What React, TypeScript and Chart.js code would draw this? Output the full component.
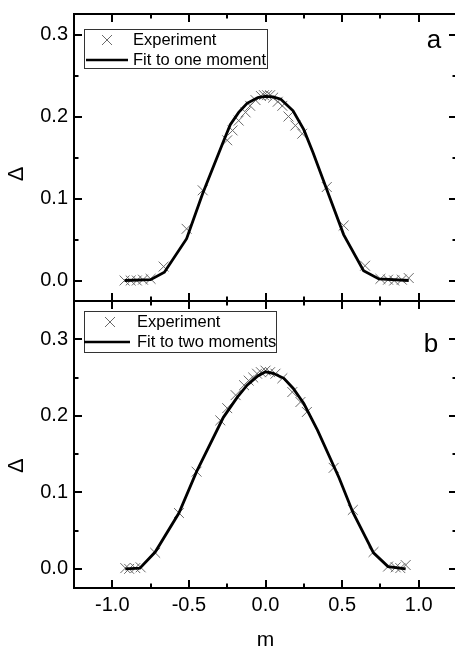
import React, { useEffect, useRef } from "react";
import { Chart, registerables } from "chart.js";

Chart.register(...registerables);

const FONT = '"Liberation Sans", Arial, Helvetica, sans-serif';

// axis ticks
const X_MAJOR = [-1, -0.5, 0, 0.5, 1];
const X_MINOR = [-0.75, -0.25, 0.25, 0.75];
const Y_MAJOR = [0, 0.1, 0.2, 0.3];
const Y_MINOR = [0.05, 0.15, 0.25];

// panel a: experiment + fit to one moment
const expA_m = [-0.92, -0.88, -0.84, -0.8, -0.75, -0.665, -0.515, -0.41, -0.25, -0.215, -0.175, -0.13, -0.1, -0.065, -0.03, -0.01, 0.01, 0.03, 0.05, 0.08, 0.11, 0.15, 0.195, 0.24, 0.4, 0.51, 0.65, 0.75, 0.8, 0.84, 0.89, 0.935];
const expA_d = [0, 0, 0, 0.001, 0.002, 0.017, 0.063, 0.11, 0.171, 0.183, 0.195, 0.205, 0.213, 0.22, 0.225, 0.226, 0.226, 0.226, 0.223, 0.218, 0.213, 0.2, 0.189, 0.179, 0.114, 0.067, 0.018, 0.002, 0.001, 0, 0.001, 0.003];
const fitA_m = [-0.92, -0.75, -0.66, -0.515, -0.41, -0.28, -0.23, -0.175, -0.12, -0.05, 0, 0.05, 0.1, 0.18, 0.25, 0.31, 0.42, 0.51, 0.64, 0.74, 0.935];
const fitA_d = [0, 0.001, 0.01, 0.051, 0.106, 0.167, 0.19, 0.205, 0.216, 0.223, 0.2245, 0.224, 0.221, 0.207, 0.184, 0.156, 0.101, 0.056, 0.012, 0.002, 0];

// panel b: experiment + fit to two moments
const expB_m = [-0.915, -0.89, -0.85, -0.815, -0.72, -0.565, -0.45, -0.295, -0.25, -0.195, -0.14, -0.11, -0.08, -0.055, -0.03, 0, 0.03, 0.065, 0.11, 0.175, 0.228, 0.27, 0.445, 0.57, 0.705, 0.8, 0.85, 0.88, 0.915];
const expB_d = [0.001, 0, 0.001, 0.002, 0.021, 0.073, 0.127, 0.194, 0.21, 0.227, 0.24, 0.246, 0.25, 0.255, 0.257, 0.259, 0.257, 0.255, 0.249, 0.231, 0.218, 0.205, 0.132, 0.077, 0.022, 0.003, 0.002, 0.001, 0.005];
const fitB_m = [-0.915, -0.82, -0.72, -0.565, -0.45, -0.275, -0.185, -0.12, -0.05, 0, 0.05, 0.12, 0.18, 0.25, 0.34, 0.48, 0.57, 0.705, 0.8, 0.915];
const fitB_d = [0, 0.001, 0.022, 0.073, 0.127, 0.198, 0.224, 0.24, 0.252, 0.2575, 0.2555, 0.249, 0.236, 0.216, 0.181, 0.119, 0.074, 0.021, 0.003, 0];

const EXP_LABEL = "Experiment";
const FIT_A_LABEL = "Fit to one moment";
const FIT_B_LABEL = "Fit to two moments";

const MARK_COLOR = "#6a6a6a";

function drawCross(ctx: CanvasRenderingContext2D, cx: number, cy: number, h: number) {
  ctx.beginPath();
  ctx.moveTo(cx - h, cy - h);
  ctx.lineTo(cx + h, cy + h);
  ctx.moveTo(cx - h, cy + h);
  ctx.lineTo(cx + h, cy - h);
  ctx.stroke();
}

const decorPlugin = {
  id: "panelDecor",
  afterDraw(chart: any, _args: any, opts: any) {
    const { ctx, chartArea: ca, scales } = chart;
    const xs = scales.x;
    const ys = scales.y;
    ctx.save();
    ctx.strokeStyle = "#000";
    ctx.lineWidth = 2;
    ctx.strokeRect(ca.left, ca.top, ca.right - ca.left, ca.bottom - ca.top);
    const seg = (x0: number, y0: number, x1: number, y1: number) => {
      ctx.beginPath();
      ctx.moveTo(x0, y0);
      ctx.lineTo(x1, y1);
      ctx.stroke();
    };
    const MAJ = 8, MIN = 4.5;
    ctx.lineWidth = 2;
    for (const v of X_MAJOR) {
      const px = Math.round(xs.getPixelForValue(v));
      seg(px, ca.top, px, ca.top + MAJ);
      seg(px, ca.bottom, px, ca.bottom - MAJ);
    }
    for (const v of X_MINOR) {
      const px = Math.round(xs.getPixelForValue(v));
      seg(px, ca.top, px, ca.top + MIN);
      seg(px, ca.bottom, px, ca.bottom - MIN);
    }
    for (const v of Y_MAJOR) {
      const py = Math.round(ys.getPixelForValue(v));
      seg(ca.left, py, ca.left + MAJ, py);
      seg(ca.right, py, ca.right - MAJ, py);
    }
    for (const v of Y_MINOR) {
      const py = Math.round(ys.getPixelForValue(v));
      seg(ca.left, py, ca.left + MIN, py);
      seg(ca.right, py, ca.right - MIN, py);
    }

    // y-axis title (Delta), rotated
    ctx.save();
    ctx.fillStyle = "#000";
    ctx.font = `22px ${FONT}`;
    ctx.translate(17, ys.getPixelForValue(opts.titleAt));
    ctx.rotate(-Math.PI / 2);
    ctx.textAlign = "center";
    ctx.textBaseline = "middle";
    ctx.fillText("Δ", 0, 0);
    ctx.restore();

    // panel letter
    ctx.fillStyle = "#000";
    ctx.font = `26px ${FONT}`;
    ctx.textAlign = "center";
    ctx.textBaseline = "middle";
    ctx.fillText(opts.letter, opts.letterX, ca.top + opts.letterDY);

    // legend box
    const lg = opts.legend;
    const bx = ca.left + lg.dx;
    const by = ca.top + lg.dy;
    ctx.lineWidth = 1;
    ctx.strokeStyle = "#333";
    ctx.strokeRect(bx + 0.5, by + 0.5, lg.w, lg.h);
    const ds = chart.data.datasets;
    const fitDs = ds[0];
    const expDs = ds[1];
    ctx.strokeStyle = MARK_COLOR;
    ctx.lineWidth = 1;
    drawCross(ctx, bx + lg.markX, by + lg.row1, 5);
    ctx.strokeStyle = "#000";
    ctx.lineWidth = 2.6;
    seg(bx + lg.lineX0, by + lg.row2, bx + lg.lineX1, by + lg.row2);
    ctx.fillStyle = "#000";
    ctx.font = `16.5px ${FONT}`;
    ctx.textAlign = "left";
    ctx.textBaseline = "middle";
    ctx.fillText(expDs.label, bx + lg.textX, by + lg.row1);
    ctx.fillText(fitDs.label, bx + lg.textX, by + lg.row2);
    ctx.restore();
  },
};

type Panel = {
  expM: number[];
  expD: number[];
  fitM: number[];
  fitD: number[];
  fitLabel: string;
  yMax: number;
  padTop: number;
  padBottom: number;
  showX: boolean;
  decor: any;
};

function buildConfig(p: Panel): any {
  return {
    type: "scatter",
    data: {
      datasets: [
        {
          label: p.fitLabel,
          data: p.fitM.map((m, i) => ({ x: m, y: p.fitD[i] })),
          showLine: true,
          borderColor: "#000",
          backgroundColor: "#000",
          borderWidth: 2.8,
          pointRadius: 0,
          tension: 0,
          order: 0,
        },
        {
          label: EXP_LABEL,
          data: p.expM.map((m, i) => ({ x: m, y: p.expD[i] })),
          showLine: false,
          pointStyle: "crossRot",
          pointRadius: 7,
          borderColor: MARK_COLOR,
          backgroundColor: "transparent",
          borderWidth: 1,
          order: 1,
        },
      ],
    },
    options: {
      responsive: false,
      animation: false,
      devicePixelRatio: 1,
      layout: { autoPadding: false, padding: { left: 0, right: 1, top: p.padTop, bottom: p.padBottom } },
      plugins: {
        legend: { display: false },
        tooltip: { enabled: false },
        panelDecor: p.decor,
      },
      scales: {
        x: {
          type: "linear",
          min: -1.25,
          max: 1.25,
          display: p.showX,
          grid: { display: false, drawTicks: false },
          border: { display: false },
          ticks: {
            padding: 5,
            color: "#000",
            font: { family: FONT, size: 20 },
            maxRotation: 0,
            callback: (v: any) => Number(v).toFixed(1),
          },
          title: {
            display: true,
            text: "m",
            color: "#000",
            font: { family: FONT, size: 21 },
            padding: { top: 0, bottom: -7 },
          },
          afterBuildTicks: (s: any) => {
            s.ticks = X_MAJOR.map((v) => ({ value: v }));
          },
          afterFit: (s: any) => {
            s.height = p.showX ? 58 : 0;
            s.paddingLeft = 0;
            s.paddingRight = 0;
          },
        },
        y: {
          type: "linear",
          min: -0.025,
          max: p.yMax,
          grid: { display: false, drawTicks: false },
          border: { display: false },
          ticks: {
            padding: 6,
            color: "#000",
            font: { family: FONT, size: 20 },
            callback: (v: any) => Number(v).toFixed(1),
          },
          afterBuildTicks: (s: any) => {
            s.ticks = Y_MAJOR.map((v) => ({ value: v }));
          },
          afterFit: (s: any) => {
            s.width = 74;
            s.paddingTop = 0;
            s.paddingBottom = 0;
          },
        },
      },
    },
    plugins: [decorPlugin],
  };
}

export default function App() {
  const refA = useRef<HTMLCanvasElement>(null);
  const refB = useRef<HTMLCanvasElement>(null);

  useEffect(() => {
    const a = new Chart(
      refA.current as HTMLCanvasElement,
      buildConfig({
        expM: expA_m,
        expD: expA_d,
        fitM: fitA_m,
        fitD: fitA_d,
        fitLabel: FIT_A_LABEL,
        yMax: 0.325,
        padTop: 14,
        padBottom: 345,
        showX: false,
        decor: {
          titleAt: 0.13,
          letter: "a",
          letterX: 434,
          letterDY: 27,
          legend: { dx: 10, dy: 15, w: 183, h: 39, markX: 23, textX: 49, lineX0: 2, lineX1: 44, row1: 11, row2: 31 },
        },
      })
    );
    const b = new Chart(
      refB.current as HTMLCanvasElement,
      buildConfig({
        expM: expB_m,
        expD: expB_d,
        fitM: fitB_m,
        fitD: fitB_d,
        fitLabel: FIT_B_LABEL,
        yMax: 0.35,
        padTop: 301,
        padBottom: 0,
        showX: true,
        decor: {
          titleAt: 0.135,
          letter: "b",
          letterX: 431,
          letterDY: 44,
          legend: { dx: 10, dy: 10, w: 192, h: 41, markX: 26, textX: 53, lineX0: 0, lineX1: 46, row1: 11, row2: 31 },
        },
      })
    );
    return () => {
      a.destroy();
      b.destroy();
    };
  }, []);

  return (
    <div
      style={{
        position: "fixed",
        left: 0,
        top: 0,
        width: 455,
        height: 646,
        overflow: "hidden",
        background: "#fff",
      }}
    >
      <canvas ref={refA} width={458} height={646} style={{ position: "absolute", left: 0, top: 0 }} />
      <canvas ref={refB} width={458} height={646} style={{ position: "absolute", left: 0, top: 0 }} />
    </div>
  );
}
